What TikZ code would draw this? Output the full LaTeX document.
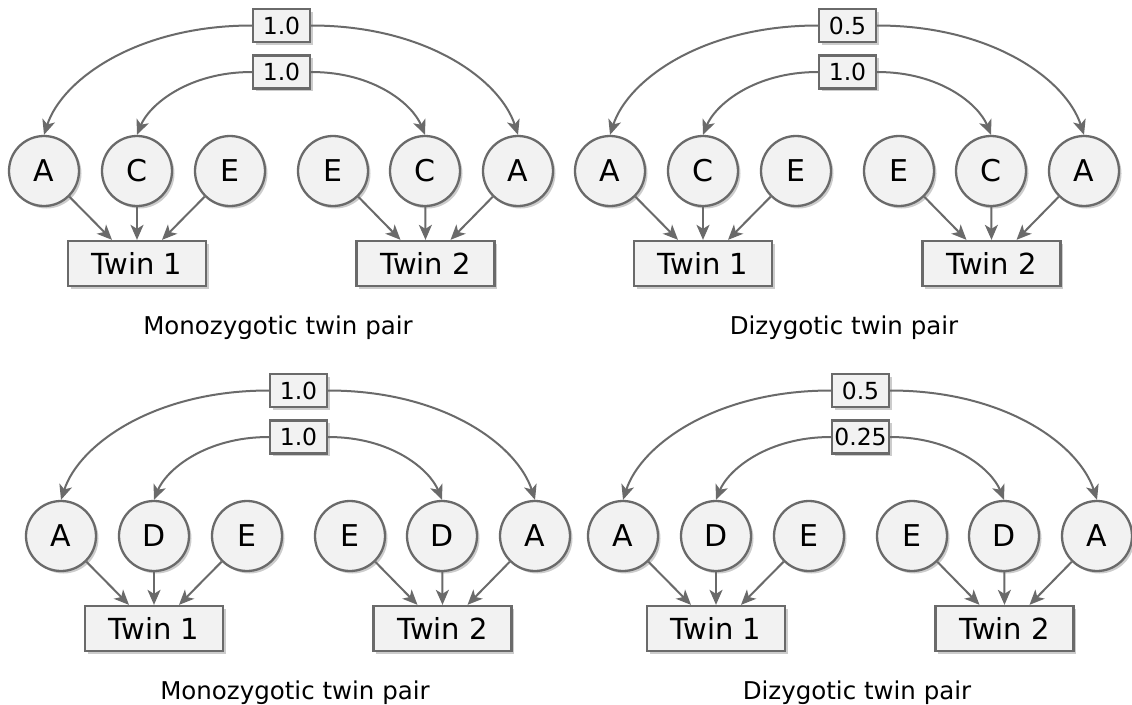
\documentclass[tikz,border=0pt]{standalone}
\usepackage{fontspec}
\setmainfont{DejaVu Sans}
\usetikzlibrary{arrows.meta,shadows}
\definecolor{lgray}{HTML}{F2F2F2}
\definecolor{dgray}{HTML}{6A6A6A}
\tikzset{
  shd/.style={drop shadow={shadow xshift=2.5pt,shadow yshift=-2.5pt,fill=black,opacity=0.2}},
  latent/.style={circle,draw=dgray,line width=2.3pt,fill=lgray,minimum size=70pt,inner sep=0pt,font=\fontsize{30}{34}\selectfont,shd},
  twin/.style={rectangle,draw=dgray,line width=2.3pt,fill=lgray,minimum width=138pt,minimum height=45pt,inner sep=0pt,font=\fontsize{29}{32}\selectfont,shd},
  corr/.style={rectangle,draw=dgray,line width=2.3pt,fill=lgray,minimum width=57pt,minimum height=33pt,inner sep=0pt,font=\fontsize{23.5}{26}\selectfont,shd},
  capt/.style={inner sep=0pt,font=\fontsize{24.5}{28}\selectfont},
  arr/.style={draw=dgray,line width=2pt,-{Stealth[length=15pt,width=13pt,inset=4pt]}},
}
\newcommand\twinpanel[7]{%
  \begin{scope}[shift={(#1,#2)}]
    \node[latent] (#7a1) at (44,171) {A};
    \node[latent] (#7m1) at (137,171) {#3};
    \node[latent] (#7e1) at (230,171) {E};
    \node[latent] (#7e2) at (333,171) {E};
    \node[latent] (#7m2) at (425,171) {#3};
    \node[latent] (#7a2) at (518,171) {A};
    \node[twin] (#7t1) at (137,263.5) {Twin 1};
    \node[twin] (#7t2) at (425.5,263.5) {Twin 2};
    \node[corr] (#7o) at (281.5,25.5) {#4};
    \node[corr] (#7i) at (281.5,72) {#5};
    \node[capt] (#7c) at (278,328) {#6};
    \draw[arr] (#7o.west) to[out=180,in=72,out distance=115pt,in distance=58pt] (#7a1.north);
    \draw[arr] (#7o.east) to[out=0,in=108,out distance=115pt,in distance=58pt] (#7a2.north);
    \draw[arr] (#7i.west) to[out=180,in=68,out distance=64pt,in distance=32pt] (#7m1.north);
    \draw[arr] (#7i.east) to[out=0,in=112,out distance=64pt,in distance=32pt] (#7m2.north);
    \draw[arr] (#7a1) -- ([xshift=-25pt]#7t1.north);
    \draw[arr] (#7m1) -- (#7t1.north);
    \draw[arr] (#7e1) -- ([xshift=25pt]#7t1.north);
    \draw[arr] (#7e2) -- ([xshift=-25pt]#7t2.north);
    \draw[arr] (#7m2) -- (#7t2.north);
    \draw[arr] (#7a2) -- ([xshift=25pt]#7t2.north);
  \end{scope}}
\begin{document}
\begin{tikzpicture}[x=1pt,y=-1pt]
  \fill[white] (0,0) rectangle (1132,704);
  \useasboundingbox (0,0) rectangle (1132,704);
  \twinpanel{0}{0}{C}{1.0}{1.0}{Monozygotic twin pair}{p}
  \twinpanel{566}{0}{C}{0.5}{1.0}{Dizygotic twin pair}{q}
  \twinpanel{17}{365}{D}{1.0}{1.0}{Monozygotic twin pair}{r}
  \twinpanel{579}{365}{D}{0.5}{0.25}{Dizygotic twin pair}{s}
\end{tikzpicture}
\end{document}
